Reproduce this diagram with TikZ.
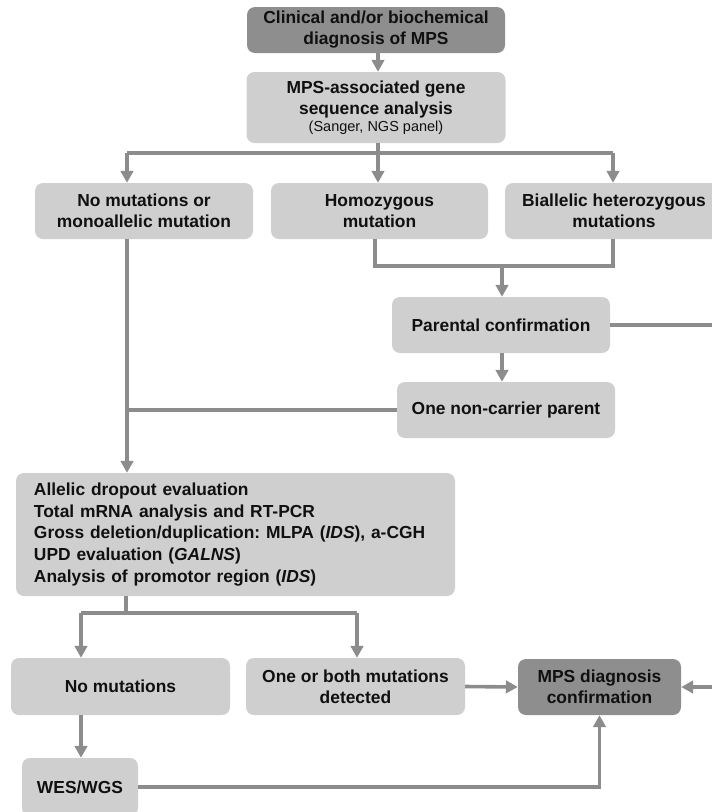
\documentclass[tikz,border=0pt]{standalone}
\usepackage{fontspec}
\setmainfont{Liberation Sans}
\usetikzlibrary{arrows.meta}
\frenchspacing
\definecolor{boxlight}{HTML}{CFCFCF}
\definecolor{boxdark}{HTML}{8E8E8E}
\definecolor{linegray}{HTML}{8C8C8C}
\definecolor{txt}{HTML}{101010}
\tikzset{
  box/.style={draw=none, fill=boxlight, rounded corners=8pt, inner sep=0pt,
    align=center, text=txt, font=\bfseries\fontsize{17.4}{21}\selectfont},
  darkbox/.style={box, fill=boxdark},
  conn/.style={draw=linegray, line width=3.6pt},
  arr/.style={conn, -{Triangle[width=12.5pt,length=12pt]}},
}
\begin{document}
\begin{tikzpicture}[x=1pt,y=-1pt]
\useasboundingbox (0,0) rectangle (712,812);
\clip (0,0) rectangle (712,812);
% nodes
\node[darkbox, minimum width=258pt, minimum height=46pt] (top) at (376,30)
  {Clinical and/or biochemical\\diagnosis of MPS};
\node[box, minimum width=259pt, minimum height=71pt] (seq) at (376,107.5)
  {MPS-associated gene\\sequence analysis\\[-4pt]{\mdseries\fontsize{14.5}{16}\selectfont (Sanger, NGS panel)}};
\node[box, minimum width=218pt, minimum height=56pt] (nomono) at (144,211)
  {No mutations or\\monoallelic mutation};
\node[box, minimum width=217pt, minimum height=56pt] (homo) at (379.5,211)
  {Homozygous\\mutation};
\node[box, minimum width=218pt, minimum height=56pt] (biall) at (614,211)
  {Biallelic heterozygous\\mutations};
\node[box, minimum width=218pt, minimum height=56pt] (parent) at (501,325)
  {Parental confirmation};
\node[box, minimum width=218pt, minimum height=56pt] (noncar) at (506,410)
  {One non-carrier parent};
\node[box, minimum width=439pt, minimum height=123pt, text width=403pt,
  align=left, inner xsep=18pt, font=\bfseries\fontsize{17.4}{21.7}\selectfont] (allelic) at (235.5,534.5)
  {Allelic dropout evaluation\\
   Total mRNA analysis and RT-PCR\\
   Gross deletion/duplication: MLPA (\textit{IDS}), a-CGH\\
   UPD evaluation (\textit{GALNS})\\
   Analysis of promotor region (\textit{IDS})};
\node[box, minimum width=219pt, minimum height=57pt] (nomut) at (120.5,686.5)
  {No mutations};
\node[box, minimum width=219pt, minimum height=57pt] (onebo) at (355.5,686.5)
  {One or both mutations\\detected};
\node[darkbox, minimum width=163pt, minimum height=56pt] (mps) at (599.5,687)
  {MPS diagnosis\\confirmation};
\node[box, minimum width=116pt, minimum height=58pt] (wes) at (80,787)
  {WES/WGS};
% helper coordinates
\coordinate (xL) at (127,0);
\coordinate (xM) at (378,0);
\coordinate (xR) at (613,0);
\coordinate (yS) at (0,153);
\coordinate (yJ) at (0,266);
\coordinate (xP) at (502,0);
\coordinate (xA) at (126,0);
\coordinate (yB) at (0,613);
\coordinate (xN) at (81,0);
\coordinate (xO) at (357,0);
\coordinate (xW) at (599.5,0);
\coordinate (edgeP) at (720,325);
\coordinate (edgeM) at (720,687);
% connectors
\draw[arr] (top.south -| xM) -- (seq.north -| xM);
\draw[conn] (seq.south -| xM) -- (xM |- yS);
\draw[conn] (xL |- yS) -- (xR |- yS);
\draw[arr] (xL |- yS) -- (nomono.north -| xL);
\draw[arr] (xM |- yS) -- (homo.north -| xM);
\draw[arr] (xR |- yS) -- (biall.north -| xR);
\draw[conn] (homo.south -| 375,0) -- (375,266) -- (xR |- yJ) -- (biall.south -| xR);
\draw[arr] (xP |- yJ) -- (parent.north -| xP);
\draw[conn] (parent.east) -- (edgeP);
\draw[arr] (parent.south -| xP) -- (noncar.north -| xP);
\draw[conn] (noncar.west) -- (noncar.west -| xL);
\draw[arr] (nomono.south -| xL) -- (allelic.north -| xL);
\draw[conn] (allelic.south -| xA) -- (xA |- yB);
\draw[conn] (xN |- yB) -- (xO |- yB);
\draw[arr] (xN |- yB) -- (nomut.north -| xN);
\draw[arr] (xO |- yB) -- (onebo.north -| xO);
\draw[arr] (onebo.east) -- (mps.west);
\draw[arr] (edgeM) -- (mps.east);
\draw[arr] (nomut.south -| xN) -- (wes.north -| xN);
\draw[arr] (wes.east) -- (wes.east -| xW) -- (mps.south -| xW);
\end{tikzpicture}
\end{document}
